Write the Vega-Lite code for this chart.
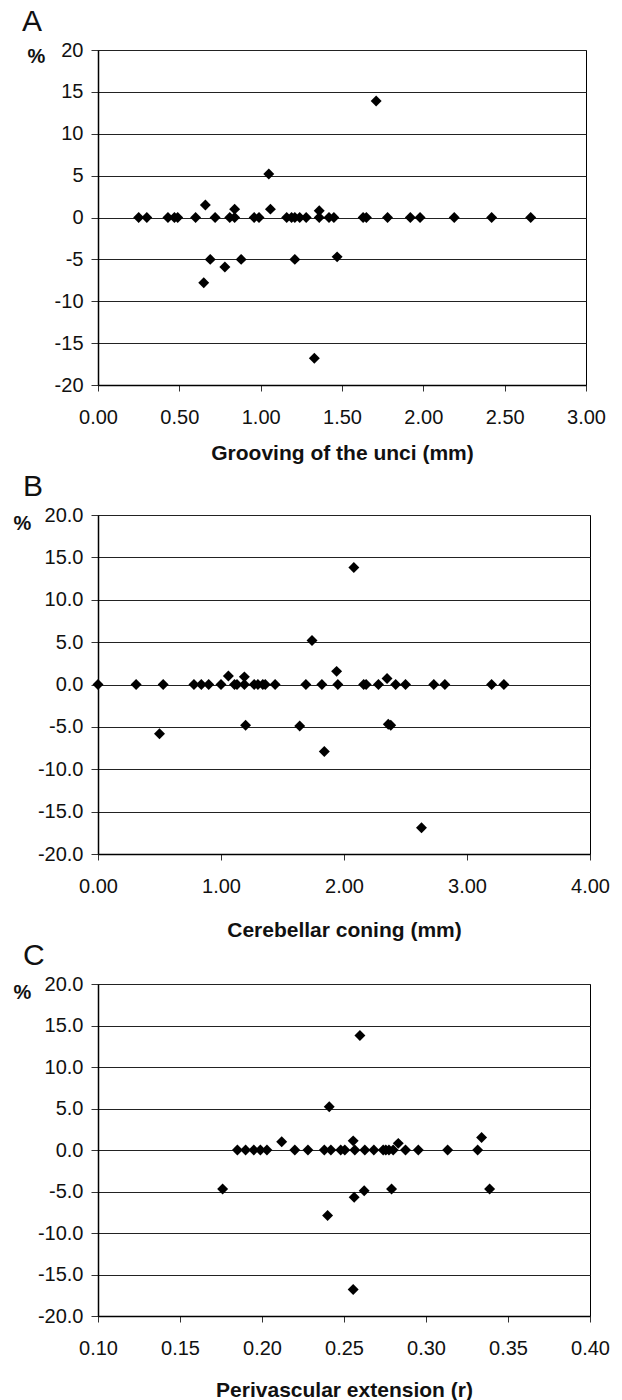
{
  "$schema": "https://vega.github.io/schema/vega-lite/v6.json",
  "padding": {"left": 12, "top": 6, "right": 5, "bottom": 0},
  "background": "white",
  "bounds": "flush",
  "spacing": 130,
  "config": {
    "font": "Liberation Sans",
    "view": {"stroke": "#000", "strokeWidth": 1},
    "axis": {
      "labelFont": "Liberation Sans",
      "labelFontSize": 20,
      "labelColor": "#111",
      "titleFont": "Liberation Sans",
      "titleColor": "#111",
      "domainColor": "#000",
      "domainWidth": 1.5,
      "tickColor": "#333",
      "tickWidth": 1,
      "gridColor": "#222",
      "gridWidth": 1,
      "gridOpacity": 1
    },
    "axisX": {"grid": false, "tickSize": 6, "labelPadding": 16, "titleFontSize": 21, "titleFontWeight": "bold", "titlePadding": 18, "labelFlush": false},
    "axisY": {"grid": true, "tickSize": 7, "labelPadding": 8, "titleFontSize": 20, "titleFontWeight": "bold", "titleAngle": 0, "titleAlign": "center", "titleBaseline": "middle"},
    "title": {"font": "Liberation Sans", "fontSize": 30, "fontWeight": "normal", "color": "#111", "anchor": "start", "frame": "group"}
  },
  "datasets": {
    "A": [
      {"x": 0.25, "y": 0}, {"x": 0.30, "y": 0}, {"x": 0.43, "y": 0}, {"x": 0.47, "y": 0}, {"x": 0.49, "y": 0},
      {"x": 0.60, "y": 0}, {"x": 0.66, "y": 1.5}, {"x": 0.72, "y": 0}, {"x": 0.69, "y": -5.0}, {"x": 0.65, "y": -7.8},
      {"x": 0.78, "y": -5.9}, {"x": 0.81, "y": 0}, {"x": 0.84, "y": 0}, {"x": 0.84, "y": 1.0}, {"x": 0.88, "y": -5.0},
      {"x": 0.96, "y": 0}, {"x": 0.99, "y": 0}, {"x": 1.05, "y": 5.2}, {"x": 1.06, "y": 1.0}, {"x": 1.16, "y": 0},
      {"x": 1.19, "y": 0}, {"x": 1.21, "y": 0}, {"x": 1.24, "y": 0}, {"x": 1.28, "y": 0}, {"x": 1.21, "y": -5.0},
      {"x": 1.33, "y": -16.8}, {"x": 1.36, "y": 0}, {"x": 1.36, "y": 0.8}, {"x": 1.42, "y": 0}, {"x": 1.45, "y": 0},
      {"x": 1.47, "y": -4.7}, {"x": 1.71, "y": 13.9}, {"x": 1.63, "y": 0}, {"x": 1.65, "y": 0}, {"x": 1.78, "y": 0},
      {"x": 1.92, "y": 0}, {"x": 1.98, "y": 0}, {"x": 2.19, "y": 0}, {"x": 2.42, "y": 0}, {"x": 2.66, "y": 0}
    ],
    "B": [
      {"x": 0.0, "y": 0}, {"x": 0.31, "y": 0}, {"x": 0.53, "y": 0}, {"x": 0.50, "y": -5.8}, {"x": 0.78, "y": 0},
      {"x": 0.84, "y": 0}, {"x": 0.90, "y": 0}, {"x": 1.00, "y": 0}, {"x": 1.06, "y": 1.0}, {"x": 1.11, "y": 0},
      {"x": 1.13, "y": 0}, {"x": 1.19, "y": 0.9}, {"x": 1.19, "y": 0}, {"x": 1.20, "y": -4.8}, {"x": 1.27, "y": 0},
      {"x": 1.30, "y": 0}, {"x": 1.34, "y": 0}, {"x": 1.36, "y": 0}, {"x": 1.44, "y": 0}, {"x": 1.69, "y": 0},
      {"x": 1.74, "y": 5.2}, {"x": 1.64, "y": -4.9}, {"x": 1.82, "y": 0}, {"x": 1.84, "y": -7.9}, {"x": 1.94, "y": 1.55},
      {"x": 1.95, "y": 0}, {"x": 2.08, "y": 13.8}, {"x": 2.16, "y": 0}, {"x": 2.18, "y": 0}, {"x": 2.28, "y": 0},
      {"x": 2.35, "y": 0.7}, {"x": 2.42, "y": 0}, {"x": 2.50, "y": 0}, {"x": 2.36, "y": -4.7}, {"x": 2.38, "y": -4.8},
      {"x": 2.63, "y": -16.9}, {"x": 2.73, "y": 0}, {"x": 2.82, "y": 0}, {"x": 3.20, "y": 0}, {"x": 3.30, "y": 0}
    ],
    "C": [
      {"x": 0.176, "y": -4.7}, {"x": 0.185, "y": 0}, {"x": 0.190, "y": 0}, {"x": 0.195, "y": 0}, {"x": 0.199, "y": 0},
      {"x": 0.203, "y": 0}, {"x": 0.212, "y": 1.0}, {"x": 0.220, "y": 0}, {"x": 0.228, "y": 0}, {"x": 0.238, "y": 0},
      {"x": 0.241, "y": 5.2}, {"x": 0.240, "y": -7.9}, {"x": 0.242, "y": 0}, {"x": 0.248, "y": 0}, {"x": 0.2505, "y": 0},
      {"x": 0.2597, "y": 13.8}, {"x": 0.2556, "y": 1.1}, {"x": 0.2566, "y": 0}, {"x": 0.2627, "y": 0}, {"x": 0.2682, "y": 0},
      {"x": 0.2739, "y": 0}, {"x": 0.2755, "y": 0}, {"x": 0.2774, "y": 0}, {"x": 0.2800, "y": 0}, {"x": 0.2831, "y": 0.8},
      {"x": 0.2875, "y": 0}, {"x": 0.2953, "y": 0}, {"x": 0.3132, "y": 0}, {"x": 0.3315, "y": 0}, {"x": 0.3339, "y": 1.5},
      {"x": 0.2562, "y": -5.7}, {"x": 0.2623, "y": -4.9}, {"x": 0.2790, "y": -4.7}, {"x": 0.3388, "y": -4.7}, {"x": 0.2556, "y": -16.8}
    ]
  },
  "vconcat": [
    {
      "width": 488, "height": 335,
      "title": {"text": "A", "dx": -76, "offset": 3},
      "data": {"name": "A"},
      "mark": {"type": "point", "shape": "diamond", "filled": true, "size": 120, "color": "#000", "opacity": 1},
      "encoding": {
        "x": {"field": "x", "type": "quantitative", "scale": {"domain": [0, 3], "nice": false, "zero": false},
              "axis": {"values": [0, 0.5, 1, 1.5, 2, 2.5, 3], "format": ".2f", "title": "Grooving of the unci (mm)", "titlePadding": 15}},
        "y": {"field": "y", "type": "quantitative", "scale": {"domain": [-20, 20], "nice": false},
              "axis": {"values": [-20, -15, -10, -5, 0, 5, 10, 15, 20], "labelExpr": "replace(format(datum.value, 'd'), '\u2212', '-')", "title": "%", "titleX": -62, "titleY": 6}}
      }
    },
    {
      "width": 492, "height": 339,
      "title": {"text": "B", "dx": -75, "offset": 3},
      "data": {"name": "B"},
      "mark": {"type": "point", "shape": "diamond", "filled": true, "size": 120, "color": "#000", "opacity": 1},
      "encoding": {
        "x": {"field": "x", "type": "quantitative", "scale": {"domain": [0, 4], "nice": false, "zero": false},
              "axis": {"values": [0, 1, 2, 3, 4], "format": ".2f", "title": "Cerebellar coning (mm)", "titlePadding": 23}},
        "y": {"field": "y", "type": "quantitative", "scale": {"domain": [-20, 20], "nice": false},
              "axis": {"values": [-20, -15, -10, -5, 0, 5, 10, 15, 20], "labelExpr": "replace(format(datum.value, '.1f'), '\u2212', '-')", "title": "%", "titleX": -76, "titleY": 8}}
      }
    },
    {
      "width": 492, "height": 332,
      "title": {"text": "C", "dx": -75, "offset": 3},
      "data": {"name": "C"},
      "mark": {"type": "point", "shape": "diamond", "filled": true, "size": 120, "color": "#000", "opacity": 1},
      "encoding": {
        "x": {"field": "x", "type": "quantitative", "scale": {"domain": [0.1, 0.4], "nice": false, "zero": false},
              "axis": {"values": [0.1, 0.15, 0.2, 0.25, 0.3, 0.35, 0.4], "format": ".2f", "title": "Perivascular extension (r)", "titlePadding": 21}},
        "y": {"field": "y", "type": "quantitative", "scale": {"domain": [-20, 20], "nice": false},
              "axis": {"values": [-20, -15, -10, -5, 0, 5, 10, 15, 20], "labelExpr": "replace(format(datum.value, '.1f'), '\u2212', '-')", "title": "%", "titleX": -76, "titleY": 8}}
      }
    }
  ]
}
